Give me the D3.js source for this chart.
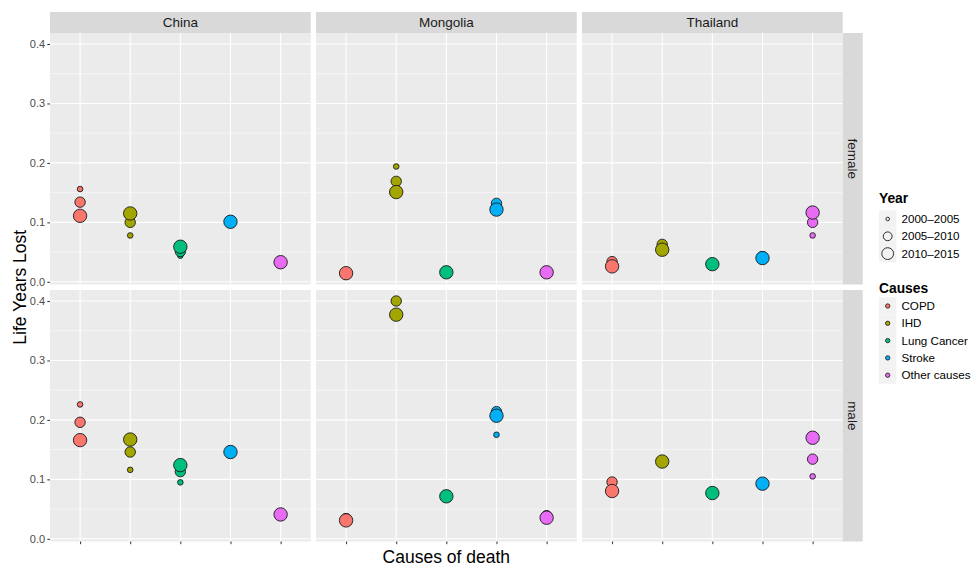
<!DOCTYPE html>
<html>
<head>
<meta charset="utf-8">
<script src="https://cdn.jsdelivr.net/npm/d3@7"></script>
<style>
  html, body { margin: 0; padding: 0; background: #fff; }
  svg { display: block; font-family: "Liberation Sans", Arial, Helvetica, sans-serif; }
</style>
</head>
<body>
<svg id="chart" width="971" height="566"></svg>
<script>
// ---- data ----
const countries = ["China", "Mongolia", "Thailand"];
const sexes = ["female", "male"];
const causes = ["COPD", "IHD", "Lung Cancer", "Stroke", "Other causes"];
const years = ["2000\u20132005", "2005\u20132010", "2010\u20132015"];
const yTicks = [0.0, 0.1, 0.2, 0.3, 0.4];

// values[cause] = [2000–2005, 2005–2010, 2010–2015]
const chinaFemale    = [[0.156, 0.134, 0.111], [0.078, 0.100, 0.115], [0.044, 0.051, 0.059], [0.100, 0.100, 0.101], [0.033, 0.033, 0.033]];
const chinaMale      = [[0.226, 0.196, 0.166], [0.116, 0.146, 0.167], [0.095, 0.113, 0.124], [0.146, 0.146, 0.146], [0.041, 0.041, 0.041]];
const mongoliaFemale = [[0.015, 0.015, 0.0145], [0.194, 0.169, 0.151], [0.016, 0.016, 0.016], [0.125, 0.132, 0.1215], [0.016, 0.016, 0.016]];
const mongoliaMale   = [[0.037, 0.034, 0.031], [0.400, 0.400, 0.377], [0.0715, 0.0715, 0.0715], [0.175, 0.214, 0.207], [0.040, 0.039, 0.0355]];
const thailandFemale = [[0.030, 0.034, 0.026], [0.060, 0.063, 0.054], [0.030, 0.030, 0.0297], [0.045, 0.042, 0.040], [0.078, 0.100, 0.1165]];
const thailandMale   = [[0.088, 0.0956, 0.0804], [0.127, 0.131, 0.130], [0.077, 0.077, 0.077], [0.093, 0.093, 0.0928], [0.105, 0.134, 0.170]];

const panelValues = {
  "China|female": chinaFemale, "China|male": chinaMale,
  "Mongolia|female": mongoliaFemale, "Mongolia|male": mongoliaMale,
  "Thailand|female": thailandFemale, "Thailand|male": thailandMale
};

// ---- styling / layout ----
const causeColor = d3.scaleOrdinal().domain(causes)
  .range(["#F8766D", "#A3A500", "#00BF7D", "#00B0F6", "#E76BF3"]);
const sizeScale = d3.scaleOrdinal().domain(years).range([2.8, 5.2, 6.7]);
const legendSize = d3.scaleOrdinal().domain(years).range([1.8, 4.4, 5.9]);

const svg = d3.select("#chart");
const panelLeft = 50, panelW = 260.7, panelGap = 5.3;
const stripTop = 12, stripH = 21;
const rowTops = [33, 290], panelH = 251.5;
const rightStripW = 20;

const xBand = d3.scalePoint().domain(causes).padding(0.6).range([0, panelW]);
const y = d3.scaleLinear().domain([-0.0045, 0.4185]).range([panelH, 0]);
const minorTicks = [0.05, 0.15, 0.25, 0.35];

countries.forEach((country, ci) => {
  const px = panelLeft + ci * (panelW + panelGap);
  svg.append("rect").attr("x", px).attr("y", stripTop).attr("width", panelW).attr("height", stripH)
    .attr("fill", "#d9d9d9");
  svg.append("text").attr("x", px + panelW / 2).attr("y", stripTop + stripH / 2 + 4.8)
    .attr("text-anchor", "middle").attr("font-size", 13.5).attr("fill", "#1a1a1a").text(country);

  sexes.forEach((sex, si) => {
    const py = rowTops[si];
    const g = svg.append("g").attr("transform", `translate(${px},${py})`);
    g.append("rect").attr("width", panelW).attr("height", panelH).attr("fill", "#ebebeb");
    g.selectAll(".minor").data(minorTicks).join("line")
      .attr("x1", 0).attr("x2", panelW).attr("y1", d => y(d)).attr("y2", d => y(d))
      .attr("stroke", "#fff").attr("stroke-width", 0.55);
    g.selectAll(".majy").data(yTicks).join("line")
      .attr("x1", 0).attr("x2", panelW).attr("y1", d => y(d)).attr("y2", d => y(d))
      .attr("stroke", "#fff").attr("stroke-width", 1.1);
    g.selectAll(".majx").data(causes).join("line")
      .attr("x1", d => xBand(d)).attr("x2", d => xBand(d)).attr("y1", 0).attr("y2", panelH)
      .attr("stroke", "#fff").attr("stroke-width", 1.1);

    const vals = panelValues[country + "|" + sex];
    const pts = [];
    years.forEach((yr, yi) => {
      causes.forEach((c, k) => pts.push({ cause: c, year: yr, v: vals[k][yi] }));
    });
    g.selectAll("circle.pt").data(pts).join("circle")
      .attr("cx", d => xBand(d.cause)).attr("cy", d => y(d.v))
      .attr("r", d => sizeScale(d.year))
      .attr("fill", d => causeColor(d.cause))
      .attr("stroke", "#1a1a1a").attr("stroke-width", 0.9);

    if (ci === 0) {
      const ax = svg.append("g").attr("transform", `translate(${px},${py})`)
        .call(d3.axisLeft(y).tickValues(yTicks).tickFormat(d3.format(".1f")).tickSize(2.7).tickPadding(2.2));
      ax.select(".domain").remove();
      ax.selectAll(".tick line").attr("stroke", "#333").attr("stroke-width", 1);
      ax.selectAll(".tick text").attr("font-size", 11).attr("fill", "#4d4d4d")
        .attr("font-family", "Liberation Sans, Arial, sans-serif");
    }
    if (si === 1) {
      const ax = svg.append("g").attr("transform", `translate(${px},${py + panelH})`)
        .call(d3.axisBottom(xBand).tickSize(2.7).tickFormat(""));
      ax.select(".domain").remove();
      ax.selectAll(".tick line").attr("stroke", "#333").attr("stroke-width", 1);
    }
    if (ci === countries.length - 1) {
      const sx = px + panelW;
      svg.append("rect").attr("x", sx).attr("y", py).attr("width", rightStripW).attr("height", panelH)
        .attr("fill", "#d9d9d9");
      svg.append("text")
        .attr("transform", `translate(${sx + rightStripW / 2 - 4.8},${py + panelH / 2}) rotate(90)`)
        .attr("text-anchor", "middle").attr("font-size", 13.5).attr("fill", "#1a1a1a").text(sex);
    }
  });
});

const plotRight = panelLeft + 3 * panelW + 2 * panelGap;
svg.append("text").attr("x", (panelLeft + plotRight) / 2).attr("y", 563)
  .attr("text-anchor", "middle").attr("font-size", 17.5).attr("fill", "#000").text("Causes of death");
svg.append("text").attr("transform", `translate(26,${(rowTops[0] + rowTops[1] + panelH) / 2}) rotate(-90)`)
  .attr("text-anchor", "middle").attr("font-size", 17.5).attr("fill", "#000").text("Life Years Lost");

const lgX = 879, keyCx = 887.7, labX = 901.5, keyH = 17.3;
svg.append("text").attr("x", lgX).attr("y", 203).attr("font-size", 13.8).attr("font-weight", "bold")
  .attr("fill", "#000").text("Year");
years.forEach((yr, i) => {
  const cy = 219 + i * keyH;
  svg.append("rect").attr("x", lgX).attr("y", cy - keyH / 2).attr("width", keyH).attr("height", keyH).attr("fill", "#f2f2f2");
  svg.append("circle").attr("cx", keyCx).attr("cy", cy).attr("r", legendSize(yr))
    .attr("fill", "none").attr("stroke", "#1a1a1a").attr("stroke-width", 0.9);
  svg.append("text").attr("x", labX).attr("y", cy + 4.1).attr("font-size", 11.6).attr("fill", "#000").text(yr);
});
svg.append("text").attr("x", lgX).attr("y", 293).attr("font-size", 13.8).attr("font-weight", "bold")
  .attr("fill", "#000").text("Causes");
causes.forEach((c, i) => {
  const cy = 306 + i * keyH;
  svg.append("rect").attr("x", lgX).attr("y", cy - keyH / 2).attr("width", keyH).attr("height", keyH).attr("fill", "#f2f2f2");
  svg.append("circle").attr("cx", keyCx).attr("cy", cy).attr("r", 2.2)
    .attr("fill", causeColor(c)).attr("stroke", "#1a1a1a").attr("stroke-width", 0.8);
  svg.append("text").attr("x", labX).attr("y", cy + 4.1).attr("font-size", 11.6).attr("fill", "#000").text(c);
});
</script>
</body>
</html>
